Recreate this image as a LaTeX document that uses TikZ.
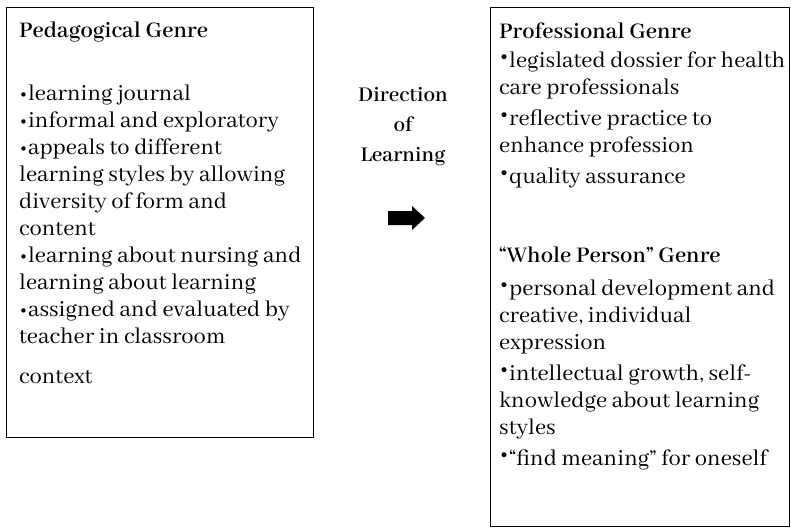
\documentclass[tikz,border=0pt]{standalone}
\usepackage{fontspec}
\setmainfont{Abhaya Libre}
\newfontfamily\bulfont{DejaVu Sans}
\usetikzlibrary{positioning}
\newcommand{\lbul}{{\bulfont\fontsize{15}{15}\selectfont •}}
\newcommand{\rbul}{\raisebox{0.45ex}{\bulfont\fontsize{17}{17}\selectfont •}}
\tikzset{
  genrebox/.style={draw, line width=1.2pt, anchor=north west, inner sep=0pt},
  genretext/.style={anchor=north west, align=left, inner sep=0pt, font=\fontsize{24.5}{27}\selectfont},
  dirtext/.style={anchor=north, align=center, inner sep=0pt, font=\bfseries\fontsize{23}{30}\selectfont}
}
\begin{document}
\begin{tikzpicture}[x=1pt,y=1pt]
  \useasboundingbox (0,0) rectangle (791,-528);
  % The left box:
  \node[genrebox, minimum width=307pt, minimum height=430pt] (pedbox) at (6,-7) {};
  \node[genretext] (pedtext) at (19,-22) {\textbf{Pedagogical Genre}\\[36pt]
    \lbul learning journal\\
    \lbul informal and exploratory\\
    \lbul appeals to different\\
    learning styles by allowing\\
    diversity of form and\\
    content\\
    \lbul learning about nursing and\\
    learning about learning\\
    \lbul assigned and evaluated by\\
    teacher in classroom\\[13pt]
    context};
  % The middle label and arrow:
  \node[dirtext] (dirlabel) at (403,-87) {Direction\\of\\Learning};
  \coordinate (arrowtail) at (388,-218);
  \fill (arrowtail) ++(0,7) -- ++(24,0) -- ++(0,5) -- ++(13,-12)
    -- ++(-13,-12) -- ++(0,5) -- ++(-24,0) -- cycle;
  % The right box:
  \node[genrebox, minimum width=299pt, minimum height=519pt] (profbox) at (490,-7) {};
  \node[genretext] (proftext) at (499,-23) {\textbf{Professional Genre}\\[2pt]
    \rbul legislated dossier for health\\
    care professionals\\[4pt]
    \rbul reflective practice to\\
    enhance profession\\[4pt]
    \rbul quality assurance\\[52pt]
    \textbf{“Whole Person” Genre}\\[6pt]
    \rbul personal development and\\
    creative, individual\\
    expression\\[4pt]
    \rbul intellectual growth, self-\\
    knowledge about learning\\
    styles\\[4pt]
    \rbul “find meaning” for oneself};
\end{tikzpicture}
\end{document}
